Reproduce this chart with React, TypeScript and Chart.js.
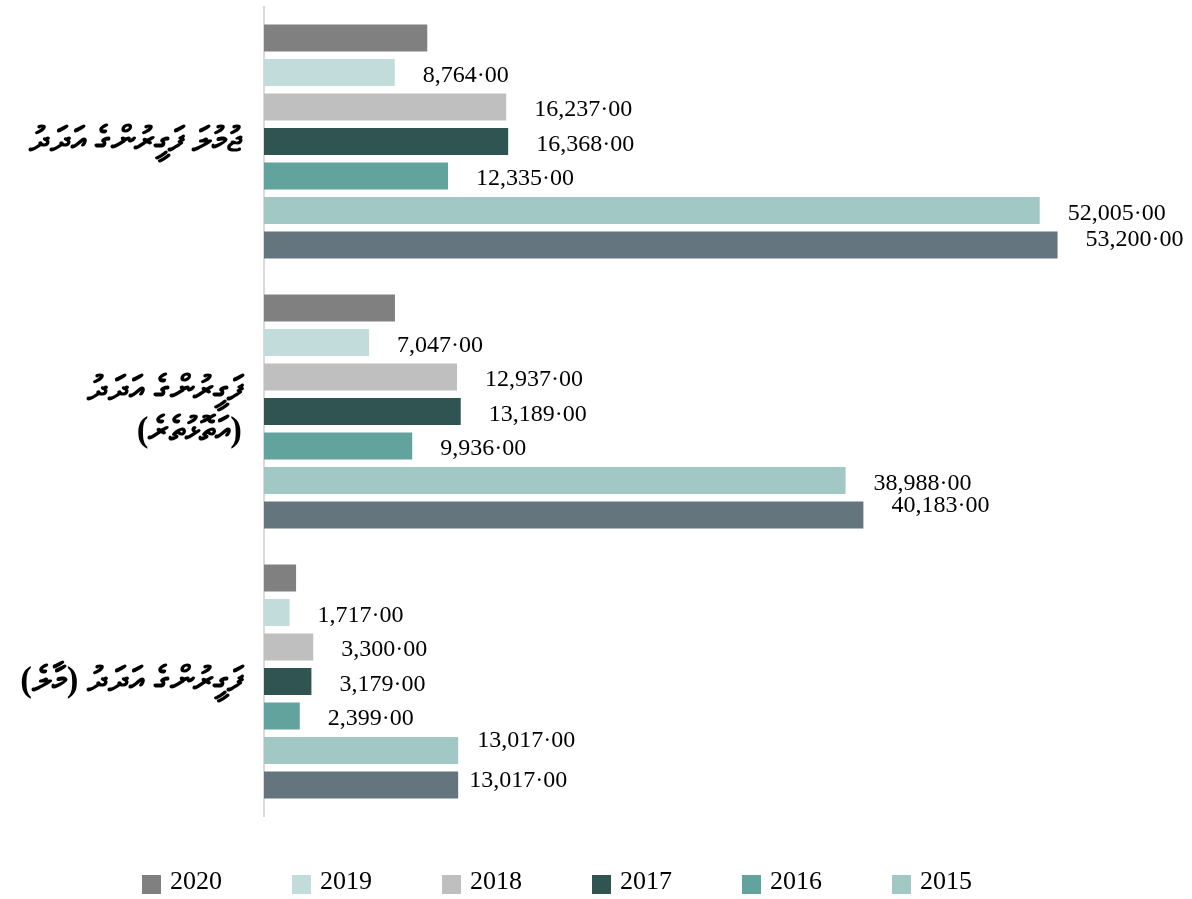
import React, { useEffect, useRef } from "react";
import { Chart, registerables } from "chart.js";

Chart.register(...registerables);

// ---- Data ----
const categories: (string | string[])[] = [
  "ޖުމުލަ ފަގީރުންގެ އަދަދު",
  ["ފަގީރުންގެ އަދަދު", "(އަތޮޅުތެރެ)"],
  "ފަގީރުންގެ އަދަދު (މާލެ)",
];
const seriesNames = ["2020", "2019", "2018", "2017", "2016", "2015", "2014"];
const values2020 = [10945, 8780, 2150];
const values2019 = [8764, 7047, 1717];
const values2018 = [16237, 12937, 3300];
const values2017 = [16368, 13189, 3179];
const values2016 = [12335, 9936, 2399];
const values2015 = [52005, 38988, 13017];
const values2014 = [53200, 40183, 13017];
const seriesValues = [values2020, values2019, values2018, values2017, values2016, values2015, values2014];
const showValueLabel = [false, true, true, true, true, true, true];
const showInLegend = [true, true, true, true, true, true, false];

// ---- Styles ----
const colors = ["#808080", "#C1DCDB", "#BFBFBF", "#2F5452", "#62A39D", "#A2C8C5", "#64757D"];
// label nudges [dx, dy] keyed "dataset-index"
const labelNudges: Record<string, [number, number]> = {
  "6-0": [0, -8],
  "6-1": [0, -12],
  "6-2": [-17, -7],
  "5-2": [-9, -13],
};

const fmt = (v: number) => v.toLocaleString("en-US") + "·00";

const valueLabels = {
  id: "valueLabels",
  afterDatasetsDraw(chart: any) {
    const ctx = chart.ctx;
    ctx.save();
    ctx.font = "24px 'Liberation Serif', 'Times New Roman', serif";
    ctx.fillStyle = "#000000";
    ctx.textBaseline = "middle";
    ctx.textAlign = "left";
    chart.data.datasets.forEach((ds: any, di: number) => {
      if (!showValueLabel[di]) return;
      const meta = chart.getDatasetMeta(di);
      meta.data.forEach((bar: any, i: number) => {
        const n = labelNudges[`${di}-${i}`] || [0, 0];
        ctx.fillText(fmt(ds.data[i]), bar.x + 28 + n[0], bar.y + 3 + n[1]);
      });
    });
    ctx.restore();
  },
};

export default function App() {
  const canvasRef = useRef<HTMLCanvasElement | null>(null);

  useEffect(() => {
    if (!canvasRef.current) return;
    const chart = new Chart(canvasRef.current, {
      type: "bar",
      data: {
        labels: categories,
        datasets: seriesNames.map((name, i) => ({
          label: name,
          data: seriesValues[i],
          backgroundColor: colors[i],
          borderWidth: 0,
          categoryPercentage: 0.894,
          barPercentage: 0.783,
        })),
      },
      options: {
        indexAxis: "y",
        animation: false,
        responsive: false,
        layout: { padding: { left: 0, right: 33, top: 6.5, bottom: 82.5 } },
        plugins: {
          legend: { display: false },
          tooltip: { enabled: false },
        },
        scales: {
          x: {
            display: false,
            min: 0,
            max: 60000,
          },
          y: {
            grid: { display: false },
            border: { display: true, color: "#D9D9D9", width: 2 },
            ticks: {
              padding: 14,
              color: "#000000",
              font: { family: "'Liberation Serif', 'DejaVu Sans', serif", size: 35, weight: "bold", lineHeight: 1.15 },
            },
            afterFit: (scale: any) => {
              scale.width = 264;
              scale.paddingTop = 0;
              scale.paddingBottom = 0;
            },
          },
        },
      },
      plugins: [valueLabels],
    } as any);
    return () => chart.destroy();
  }, []);

  return (
    <div style={{ position: "absolute", left: 0, top: 0, width: 1192, height: 899, background: "#ffffff" }}>
      <canvas ref={canvasRef} width={1192} height={899} style={{ display: "block" }} />
      <div style={{ position: "absolute", left: 142, top: 868, height: 30, display: "flex" }}>
        {seriesNames.map((name, i) =>
          showInLegend[i] ? (
            <div key={name} style={{ position: "relative", width: 150, height: 30 }}>
              <div
                style={{
                  position: "absolute",
                  left: 0,
                  top: 7,
                  width: 19,
                  height: 19,
                  background: colors[i],
                }}
              />
              <span
                style={{
                  position: "absolute",
                  left: 28,
                  top: 0,
                  fontFamily: "'Liberation Serif', 'Times New Roman', serif",
                  fontSize: 26,
                  lineHeight: "26px",
                  color: "#000000",
                  whiteSpace: "nowrap",
                }}
              >
                {name}
              </span>
            </div>
          ) : null
        )}
      </div>
    </div>
  );
}
